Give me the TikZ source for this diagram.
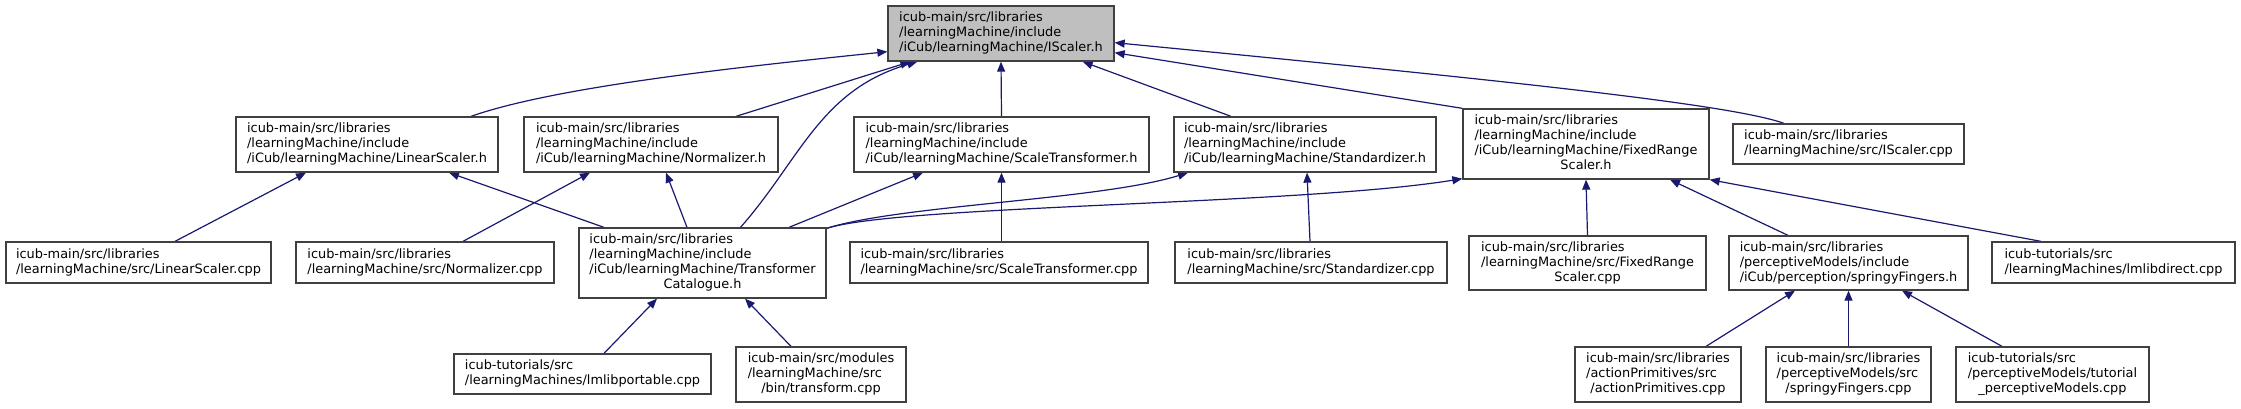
\documentclass[tikz,border=0pt]{standalone}
\usepackage{fontspec}
\setmainfont{DejaVu Sans}
\usetikzlibrary{arrows.meta}
\definecolor{edgecol}{HTML}{191970}
\definecolor{boxline}{HTML}{404040}
\definecolor{rootfill}{HTML}{BFBFBF}
\pgfdeclarelayer{edgelayer}
\pgfsetlayers{edgelayer,main}
\newcommand{\lc}[1]{\multicolumn{1}{@{}c@{}}{#1}}
\newcommand{\tx}[1]{\begin{tabular}{@{}l@{}}#1\end{tabular}}
\tikzset{
  box/.style={draw=boxline, line width=1.3pt, fill=white, inner sep=0pt,
    font=\fontsize{12.9}{15}\selectfont},
  edge/.style={draw=edgecol, line width=1.2pt, -{Triangle[length=10pt,width=8pt]}}
}
\begin{document}
\begin{tikzpicture}[x=1pt,y=1pt]
\useasboundingbox (0,0) rectangle (2241,-408);
% row 0
\node[box, fill=rootfill, minimum width=226pt, minimum height=55pt] (root) at (1001,-33.5)
  {\tx{icub-main/src/libraries\\/learningMachine/include\\/iCub/learningMachine/IScaler.h}};
% row 1
\node[box, minimum width=262pt, minimum height=55pt] (lsh) at (367,-144.5)
  {\tx{icub-main/src/libraries\\/learningMachine/include\\/iCub/learningMachine/LinearScaler.h}};
\node[box, minimum width=254pt, minimum height=55pt] (nh) at (651,-144.5)
  {\tx{icub-main/src/libraries\\/learningMachine/include\\/iCub/learningMachine/Normalizer.h}};
\node[box, minimum width=295pt, minimum height=55pt] (sth) at (1001.5,-144.5)
  {\tx{icub-main/src/libraries\\/learningMachine/include\\/iCub/learningMachine/ScaleTransformer.h}};
\node[box, minimum width=262pt, minimum height=55pt] (sdh) at (1305,-144.5)
  {\tx{icub-main/src/libraries\\/learningMachine/include\\/iCub/learningMachine/Standardizer.h}};
\node[box, minimum width=246pt, minimum height=70pt] (frsh) at (1586,-144)
  {\tx{icub-main/src/libraries\\/learningMachine/include\\/iCub/learningMachine/FixedRange\\\lc{Scaler.h}}};
\node[box, minimum width=231pt, minimum height=40pt] (iscpp) at (1848.5,-144)
  {\tx{icub-main/src/libraries\\/learningMachine/src/IScaler.cpp}};
% row 2
\node[box, minimum width=265pt, minimum height=41pt] (lscpp) at (138.5,-262.5)
  {\tx{icub-main/src/libraries\\/learningMachine/src/LinearScaler.cpp}};
\node[box, minimum width=258pt, minimum height=41pt] (ncpp) at (425,-262.5)
  {\tx{icub-main/src/libraries\\/learningMachine/src/Normalizer.cpp}};
\node[box, minimum width=247pt, minimum height=70pt] (tc) at (702.5,-263)
  {\tx{icub-main/src/libraries\\/learningMachine/include\\/iCub/learningMachine/Transformer\\\lc{Catalogue.h}}};
\node[box, minimum width=298pt, minimum height=41pt] (stcpp) at (999,-262.5)
  {\tx{icub-main/src/libraries\\/learningMachine/src/ScaleTransformer.cpp}};
\node[box, minimum width=272pt, minimum height=41pt] (sdcpp) at (1311,-262.5)
  {\tx{icub-main/src/libraries\\/learningMachine/src/Standardizer.cpp}};
\node[box, minimum width=237pt, minimum height=54pt] (frscpp) at (1587.5,-263)
  {\tx{icub-main/src/libraries\\/learningMachine/src/FixedRange\\\lc{Scaler.cpp}}};
\node[box, minimum width=239pt, minimum height=54pt] (sfh) at (1848.5,-263)
  {\tx{icub-main/src/libraries\\/perceptiveModels/include\\/iCub/perception/springyFingers.h}};
\node[box, minimum width=243pt, minimum height=41pt] (lmdcpp) at (2113.5,-262.5)
  {\tx{icub-tutorials/src\\/learningMachines/lmlibdirect.cpp}};
% row 3
\node[box, minimum width=257pt, minimum height=40pt] (lmpcpp) at (582.5,-374)
  {\tx{icub-tutorials/src\\/learningMachines/lmlibportable.cpp}};
\node[box, minimum width=170pt, minimum height=55pt] (trcpp) at (821,-374.5)
  {\tx{icub-main/src/modules\\/learningMachine/src\\\lc{/bin/transform.cpp}}};
\node[box, minimum width=166pt, minimum height=55pt] (apcpp) at (1658,-374.5)
  {\tx{icub-main/src/libraries\\/actionPrimitives/src\\\lc{/actionPrimitives.cpp}}};
\node[box, minimum width=165pt, minimum height=55pt] (sfcpp) at (1848.5,-374.5)
  {\tx{icub-main/src/libraries\\/perceptiveModels/src\\\lc{/springyFingers.cpp}}};
\node[box, minimum width=193pt, minimum height=55pt] (tpmcpp) at (2052.5,-374.5)
  {\tx{icub-tutorials/src\\/perceptiveModels/tutorial\\\lc{\_perceptiveModels.cpp}}};
\begin{pgfonlayer}{edgelayer}
% edges to root
\draw[edge] ([xshift=104pt]lsh.north) .. controls (560,-85) and (760,-65) .. ([yshift=10pt]root.south west);
\draw[edge] ([xshift=85pt]nh.north) -- ([xshift=23pt]root.south west);
\draw[edge] ([xshift=38pt]tc.north) .. controls (800,-160) and (820,-90) .. ([xshift=30pt]root.south west);
\draw[edge] (sth.north) -- (root.south);
\draw[edge] ([xshift=-74pt]sdh.north) -- ([xshift=-32pt]root.south east);
\draw[edge] (frsh.north west) -- ([yshift=9pt]root.south east);
\draw[edge] ([xshift=-64.5pt]iscpp.north) .. controls (1730,-104) and (1500,-80) .. ([yshift=19pt]root.south east);
% edges row2 -> row1
\draw[edge] ([xshift=36.5pt]lscpp.north) -- ([xshift=-61pt]lsh.south);
\draw[edge] ([xshift=-98.5pt]tc.north) -- ([xshift=82pt]lsh.south);
\draw[edge] ([xshift=38pt]ncpp.north) -- ([xshift=-61pt]nh.south);
\draw[edge] ([xshift=-15.5pt]tc.north) -- ([xshift=15pt]nh.south);
\draw[edge] ([xshift=86.5pt]tc.north) -- ([xshift=-78.5pt]sth.south);
\draw[edge] ([xshift=2.5pt]stcpp.north) -- (sth.south);
\draw[edge] ([yshift=-1pt]tc.north east) .. controls (900,-205) and (1100,-200) .. ([xshift=-117pt]sdh.south);
\draw[edge] ([yshift=-1pt]tc.north east) .. controls (900,-205) and (1300,-205) .. ([yshift=1pt]frsh.south west);
\draw[edge] ([xshift=-1pt]sdcpp.north) -- ([xshift=2pt]sdh.south);
\draw[edge] (frscpp.north) -- (frsh.south);
\draw[edge] ([xshift=-60.5pt]sfh.north) -- ([xshift=84pt]frsh.south);
\draw[edge] ([xshift=-72.5pt]lmdcpp.north) -- (frsh.south east);
% edges row3 -> row2
\draw[edge] ([xshift=21.5pt]lmpcpp.north) -- ([xshift=-45.5pt]tc.south);
\draw[edge] ([xshift=-30pt]trcpp.north) -- ([xshift=42.5pt]tc.south);
\draw[edge] ([xshift=48pt]apcpp.north) -- ([xshift=-53.5pt]sfh.south);
\draw[edge] (sfcpp.north) -- (sfh.south);
\draw[edge] ([xshift=-50.5pt]tpmcpp.north) -- ([xshift=53.5pt]sfh.south);
\end{pgfonlayer}
\end{tikzpicture}
\end{document}
